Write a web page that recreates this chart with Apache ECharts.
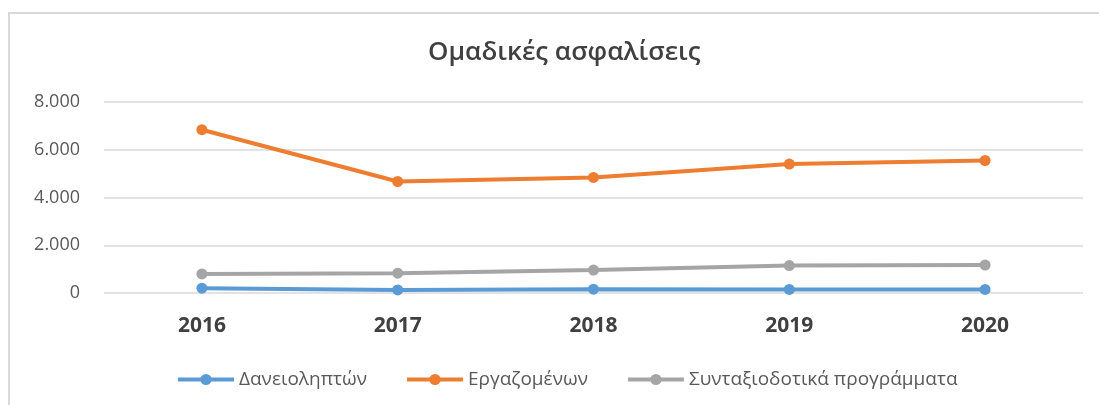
<!DOCTYPE html>
<html>
<head>
<meta charset="utf-8">
<script src="https://cdn.jsdelivr.net/npm/echarts@6/dist/echarts.min.js"></script>
<style>
html,body{margin:0;padding:0;background:#fff;}
#frame{position:absolute;left:8px;top:12px;width:1100px;height:400px;border-left:2px solid #d9d9d9;border-top:2px solid #d9d9d9;box-sizing:border-box;}
#main{position:absolute;left:0;top:0;width:1099px;height:405px;}
</style>
</head>
<body>
<div id="frame"></div>
<div id="main"></div>
<script>
const categories = ['2016','2017','2018','2019','2020'];
const seriesNames = ['Δανειοληπτών','Εργαζομένων','Συνταξιοδοτικά προγράμματα'];
const borrowers = [200, 130, 160, 150, 150];
const employees = [6840, 4670, 4840, 5400, 5550];
const pensions = [800, 830, 960, 1150, 1170];
const yTicks = [0, 2000, 4000, 6000, 8000];

const colors = ['#5b9bd5', '#ed7d31', '#a5a5a5'];
const chart = echarts.init(document.getElementById('main'), null, {renderer:'canvas'});
function fmt(v){ return String(v).replace(/\B(?=(\d{3})+(?!\d))/g, '.'); }
const mk = (name, data, c) => ({
  name, type:'line', data, symbol:'circle', symbolSize:11,
  lineStyle:{width:4, color:c}, itemStyle:{color:c}
});
chart.setOption({
  animation:false,
  color: colors,
  title:{
    text:'Ομαδικές ασφαλίσεις', left:423, top:35,
    textStyle:{fontFamily:'Open Sans', fontSize:26, fontWeight:'600', color:'#404040'}
  },
  legend:{
    top:365, left:171, itemWidth:56, itemHeight:14, itemGap:38,
    lineStyle:{width:4},
    textStyle:{fontFamily:'Open Sans', fontSize:19, color:'#595959'},
    data: seriesNames
  },
  grid:{left:104, right:16, top:102, bottom:112, containLabel:false},
  xAxis:{
    type:'category', data:categories, boundaryGap:true,
    axisLine:{show:false}, axisTick:{show:false},
    axisLabel:{margin:23, fontFamily:'Open Sans', fontSize:21, fontWeight:'bold', color:'#404040'}
  },
  yAxis:{
    type:'value', min:yTicks[0], max:yTicks[yTicks.length-1], interval:2000,
    axisLine:{show:false}, axisTick:{show:false},
    splitLine:{lineStyle:{color:'#d9d9d9', width:1.5}},
    axisLabel:{margin:24, fontFamily:'Open Sans', fontSize:18, color:'#595959', formatter:fmt}
  },
  series:[
    mk(seriesNames[0], borrowers, colors[0]),
    mk(seriesNames[1], employees, colors[1]),
    mk(seriesNames[2], pensions, colors[2])
  ]
});
</script>
</body>
</html>
